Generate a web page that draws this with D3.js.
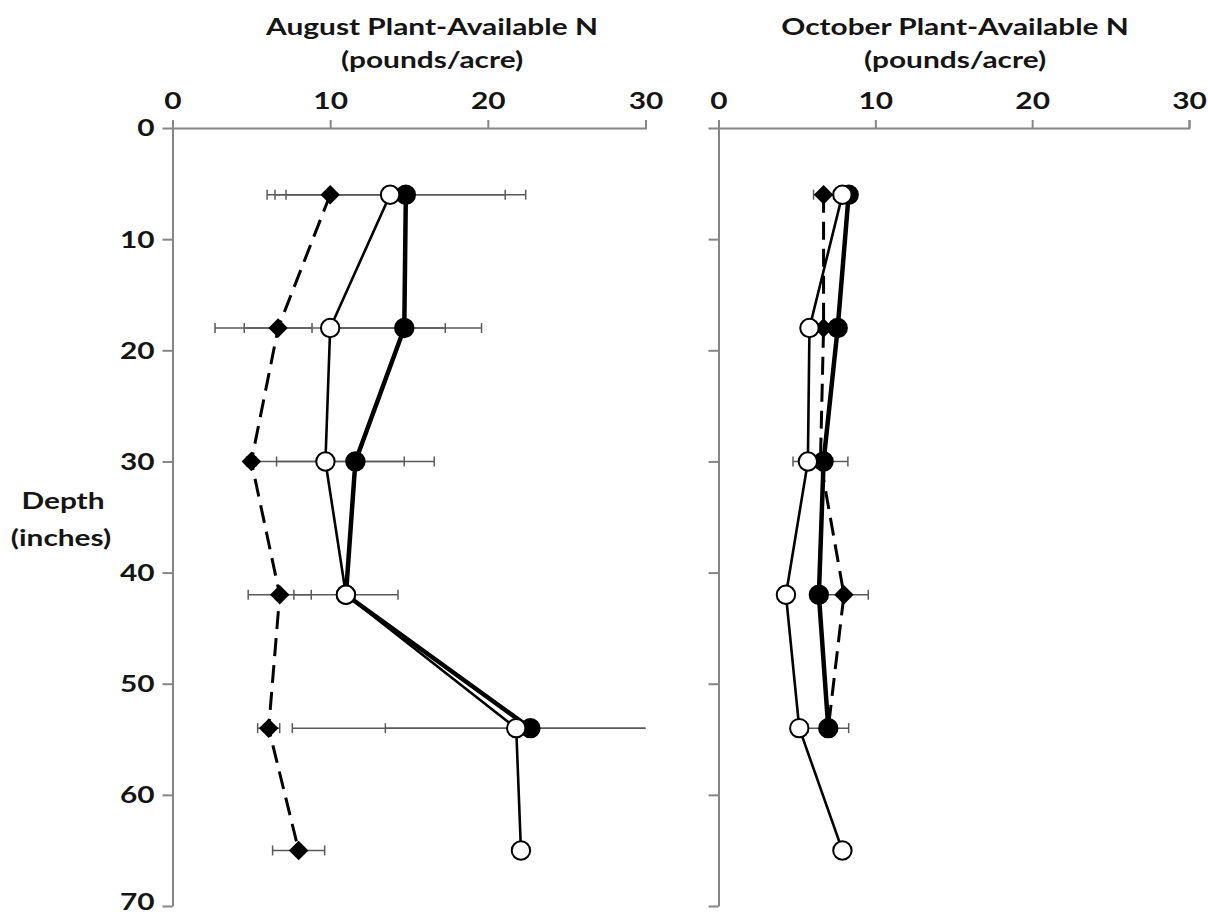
<!DOCTYPE html>
<html>
<head>
<meta charset="utf-8">
<script src="https://cdn.jsdelivr.net/npm/d3@7"></script>
<style>
  body { margin: 0; background: #fff; }
  text { font-family: Lato, "Open Sans", sans-serif; font-weight: bold; fill: #151515; }
</style>
</head>
<body>
<svg id="chart"></svg>
<script>
// Plant-available N by depth, August vs October
const width = 1208;
const height = 918;

// depths (inches)
const depths = [6, 18, 30, 42, 54, 65];

// August (pounds/acre)
const augFilled     = [14.8, 14.7, 11.6, 11.0, 22.7, null];
const augFilledErr  = [7.6, 4.9, 5.0, 0.5, 15.1, null];
const augOpen       = [13.8, 10.0, 9.7, 11.0, 21.8, 22.1];
const augOpenErr    = [7.3, 7.3, 5.0, 3.3, 8.3, 0.3];
const augDiamond    = [10.0, 6.7, 5.0, 6.8, 6.1, 8.0];
const augDiamondErr = [4.0, 2.15, 0.3, 2.0, 0.7, 1.65];

// October (pounds/acre)
const octFilled     = [8.3, 7.6, 6.7, 6.4, 7.0, null];
const octFilledErr  = [0.3, 0.3, 0.3, 0.3, 1.3, null];
const octOpen       = [7.9, 5.8, 5.7, 4.3, 5.15, 7.9];
const octOpenErr    = [0.3, 0.3, 0.3, 0.3, 0.3, 0.3];
const octDiamond    = [6.7, 6.7, 6.5, 8.0, 7.0, null];
const octDiamondErr = [0.64, 0.3, 1.75, 1.55, 0.3, null];

const xTicks = [0, 10, 20, 30];
const yTicks = [0, 10, 20, 30, 40, 50, 60, 70];

const svg = d3.select("#chart")
  .attr("width", width)
  .attr("height", height);

const y = d3.scaleLinear().domain([0, 70]).range([128, 906]);

const axisColor = "#868686";
const errColor = "#5a5a5a";
const fontSize = 23.5;
const stretch = 1.27;   // the original text is a wide, stretched Calibri

// text that is widened sideways around its anchor point
function wideText(parent, x, yy, str, anchor) {
  return parent.append("text")
    .attr("transform", "translate(" + x + "," + yy + ") scale(" + stretch + ",1)")
    .attr("text-anchor", anchor || "middle")
    .attr("font-size", fontSize)
    .text(str);
}

function rows(vals, errs) {
  return depths.map(function (d, i) {
    return { depth: d, v: vals[i], e: errs[i] };
  }).filter(function (r) { return r.v != null; });
}

function drawPanel(opt) {
  const x = d3.scaleLinear().domain([0, 30]).range(opt.range);
  const g = svg.append("g");

  // titles
  wideText(g, opt.titleX, 35, opt.title);
  wideText(g, opt.titleX, 68, "(pounds/acre)");

  // x axis at top, ticks point up
  const xAxis = g.append("g")
    .attr("transform", "translate(0," + y(0) + ")")
    .call(d3.axisTop(x).tickValues(xTicks).tickSize(8).tickPadding(11).tickFormat(d3.format("d")));
  xAxis.select(".domain").attr("stroke", axisColor).attr("stroke-width", 2);
  xAxis.selectAll(".tick line").attr("stroke", axisColor).attr("stroke-width", 2);
  xAxis.selectAll(".tick text")
    .attr("font-size", fontSize)
    .attr("fill", "#151515")
    .attr("transform", "scale(" + stretch + ",1)");

  // y axis, ticks point left
  const yAxis = g.append("g")
    .attr("transform", "translate(" + opt.range[0] + ",0)")
    .call(d3.axisLeft(y).tickValues(yTicks).tickSize(10).tickSizeOuter(0)
      .tickFormat(opt.yLabels ? d3.format("d") : ""));
  yAxis.select(".domain").attr("stroke", axisColor).attr("stroke-width", 2);
  yAxis.selectAll(".tick line").attr("stroke", axisColor).attr("stroke-width", 2);
  yAxis.selectAll(".tick text")
    .attr("font-size", fontSize)
    .attr("fill", "#151515")
    .attr("x", -18 / stretch)
    // last label sits on the bottom edge, lift it a little so it stays inside
    .attr("dy", function (d) { return d === 70 ? "0.16em" : "0.34em"; })
    .attr("transform", "scale(" + stretch + ",1)");

  const series = opt.series;

  // error bars (clipped at the axis max)
  const capH = 5;
  series.forEach(function (s) {
    const eb = g.append("g").attr("stroke", errColor).attr("stroke-width", 1.5).attr("fill", "none");
    s.data.forEach(function (r) {
      const lo = r.v - r.e;
      const hi = r.v + r.e;
      const x0 = x(Math.max(0, lo));
      const x1 = x(Math.min(30, hi));
      const yy = y(r.depth);
      eb.append("line").attr("x1", x0).attr("x2", x1).attr("y1", yy).attr("y2", yy);
      if (lo >= 0) eb.append("line").attr("x1", x0).attr("x2", x0).attr("y1", yy - capH).attr("y2", yy + capH);
      if (hi <= 30) eb.append("line").attr("x1", x1).attr("x2", x1).attr("y1", yy - capH).attr("y2", yy + capH);
    });
  });

  // lines + markers, series order: diamond, filled, open
  const line = d3.line()
    .x(function (r) { return x(r.v); })
    .y(function (r) { return y(r.depth); });

  series.forEach(function (s) {
    g.append("path")
      .datum(s.data)
      .attr("d", line)
      .attr("fill", "none")
      .attr("stroke", "#000")
      .attr("stroke-width", s.width)
      .attr("stroke-dasharray", s.dash || null)
      .attr("stroke-linejoin", "round");

    const m = g.append("g");
    if (s.marker === "diamond") {
      m.selectAll("path")
        .data(s.data)
        .enter()
        .append("path")
        .attr("d", d3.symbol().type(d3.symbolSquare).size(190))
        .attr("transform", function (r) {
          return "translate(" + x(r.v) + "," + y(r.depth) + ") rotate(45)";
        })
        .attr("fill", "#000");
    } else {
      m.selectAll("circle")
        .data(s.data)
        .enter()
        .append("circle")
        .attr("cx", function (r) { return x(r.v); })
        .attr("cy", function (r) { return y(r.depth); })
        .attr("r", 9.2)
        .attr("fill", s.marker === "filled" ? "#000" : "#fff")
        .attr("stroke", "#000")
        .attr("stroke-width", 2);
    }
  });
}

drawPanel({
  range: [172.5, 645.5],
  titleX: 432,
  title: "August Plant-Available N",
  yLabels: true,
  series: [
    { data: rows(augDiamond, augDiamondErr), marker: "diamond", width: 3, dash: "18,9" },
    { data: rows(augFilled, augFilledErr), marker: "filled", width: 4.5 },
    { data: rows(augOpen, augOpenErr), marker: "open", width: 2.6 }
  ]
});

drawPanel({
  range: [718.5, 1189],
  titleX: 955,
  title: "October Plant-Available N",
  yLabels: false,
  series: [
    { data: rows(octDiamond, octDiamondErr), marker: "diamond", width: 3, dash: "18,9" },
    { data: rows(octFilled, octFilledErr), marker: "filled", width: 4.5 },
    { data: rows(octOpen, octOpenErr), marker: "open", width: 2.6 }
  ]
});

// y axis title
wideText(svg, 63, 509, "Depth");
wideText(svg, 61, 546, "(inches)");
</script>
</body>
</html>
